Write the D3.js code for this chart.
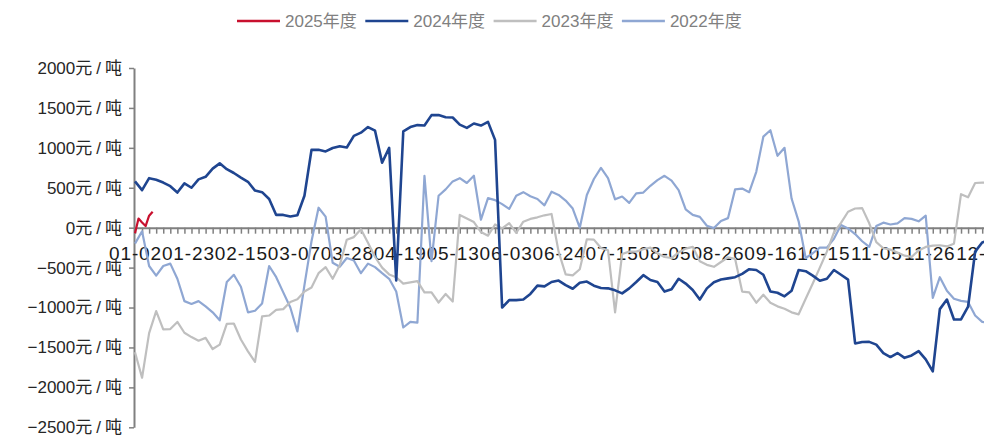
<!DOCTYPE html>
<html><head><meta charset="utf-8">
<script src="https://cdn.jsdelivr.net/npm/d3@7"></script>
<style>body{margin:0;background:#fff}svg{display:block}</style>
</head><body><svg id="c" width="984" height="436"></svg>
<script>
// ---------- data ----------
const dateLabels = ["01-02","01-23","02-15","03-07","03-28","04-19","05-13","06-03","06-24","07-15","08-05","08-26","09-16","10-15","11-05","11-26","12-17"];
const labelEvery = 15;      // trading days between date labels
const dayCount = 244;       // trading days on the axis
const sampleEvery = 2;      // full-year series read every 2 trading days
const yTicks = [-2500,-2000,-1500,-1000,-500,0,500,1000,1500,2000];
const seriesNames = ["2025年度","2024年度","2023年度","2022年度"];

const v2025 = [-70,115,65,20,150,200]; // daily
const v2024 = [580,470,620,600,565,520,440,555,500,605,637,740,806,733,685,628,575,465,445,360,
 160,160,140,155,400,975,975,955,998,1020,1004,1150,1190,1260,1215,815,1000,-660,1205,1260,
 1285,1280,1410,1410,1384,1380,1290,1250,1305,1279,1325,1100,-1000,-907,-907,-900,-830,-726,-735,-680,
 -662,-720,-765,-690,-675,-726,-755,-760,-785,-823,-760,-680,-595,-655,-680,-800,-770,-640,-700,-780,
 -900,-760,-684,-650,-635,-620,-578,-520,-530,-590,-800,-815,-860,-790,-530,-545,-600,-665,-640,-530,
 -590,-650,-1450,-1431,-1430,-1465,-1570,-1620,-1570,-1630,-1600,-1545,-1650,-1800,-1020,-900,-1150,-1148,-990,-300,
 -185,-160];
const v2023 = [-1560,-1880,-1320,-1045,-1274,-1270,-1180,-1316,-1370,-1415,-1380,-1520,-1464,-1205,-1200,-1400,-1549,-1680,-1110,-1100,
 -1030,-1020,-930,-895,-800,-750,-570,-494,-640,-470,-150,-118,-20,-190,-367,-500,-585,-620,-700,-684,
 -670,-810,-810,-937,-830,-925,160,115,70,-55,-100,40,-10,58,-65,75,110,130,155,172,
 -300,-585,-598,-520,-145,-150,-255,-282,-1060,-330,-300,-300,-270,-250,-320,-367,-380,-310,-262,-240,
 -420,-465,-490,-430,-370,-390,-800,-810,-940,-840,-940,-985,-1015,-1060,-1085,-890,-700,-500,-300,-60,
 60,200,240,245,55,-180,-258,-275,-310,-350,-365,-285,-241,-225,-220,-235,-200,420,380,560,
 565,560];
const v2022 = [-200,-45,-480,-600,-480,-450,-640,-920,-955,-920,-985,-1060,-1160,-680,-590,-740,-1060,-1040,-950,-480,
 -620,-810,-1000,-1300,-720,-170,250,139,-440,-490,-380,-410,-570,-450,-494,-570,-640,-800,-1250,-1180,
 -1190,650,-420,400,480,580,620,560,650,100,370,345,295,235,400,445,393,360,280,450,
 410,340,240,0,410,610,750,620,355,390,310,430,440,525,595,650,590,470,230,160,
 135,25,-5,85,120,480,490,445,700,1140,1220,900,1000,365,80,-380,-320,-250,-250,-140,
 34,-10,-80,-170,-241,20,63,40,55,120,110,80,150,-880,-620,-790,-890,-916,-930,-1100,
 -1180,-1190];

const colors = {"2025年度":"#C8102E","2024年度":"#1F4590","2023年度":"#BFBFBF","2022年度":"#8FA7D3"};
const widths = {"2025年度":2.2,"2024年度":2.6,"2023年度":2.2,"2022年度":2.2};

// ---------- chart ----------
const FONT = "'Liberation Sans','Noto Sans CJK SC',sans-serif";
const svg = d3.select("#c");
svg.append("rect").attr("width",984).attr("height",436).attr("fill","#fff");

const x = d3.scaleLinear().domain([0, dayCount-1]).range([135, 135 + 3.53*(dayCount-1)]);
const y = d3.scaleLinear().domain([-2500, 2000]).range([427.3, 68]);
const fmt = d3.format("d");

// y axis
const gy = svg.append("g").attr("transform","translate(134,0)")
  .call(d3.axisLeft(y).tickValues(yTicks).tickSize(5).tickSizeOuter(0).tickPadding(7));
gy.select(".domain").attr("stroke","#808080").attr("stroke-width",2);
gy.selectAll(".tick line").attr("stroke","#808080").attr("stroke-width",1.5);
gy.selectAll(".tick text").each(function(d){
  const t = d3.select(this).text(null)
    .attr("font-family",FONT).attr("font-size",17).attr("fill","#262626");
  t.append("tspan").text(fmt(d)+"元");
  t.append("tspan").attr("dx",4).text("/");
  t.append("tspan").attr("dx",4).text("吨");
});

// x axis (ticks)
const gx = svg.append("g").attr("transform",`translate(0,${y(0)})`)
  .call(d3.axisBottom(x).tickValues(d3.range(0, dayCount, 2)).tickSize(6).tickSizeOuter(0).tickFormat(""));
gx.select(".domain").attr("stroke","#808080").attr("stroke-width",2);
gx.selectAll(".tick line").attr("stroke","#808080").attr("stroke-width",1.5);

// x labels
const gl = svg.append("g").attr("transform",`translate(0,${y(0)})`)
  .call(d3.axisBottom(x).tickValues(dateLabels.map((d,i)=>i*labelEvery)).tickSize(0).tickPadding(19)
    .tickFormat((d,i)=>dateLabels[i]));
gl.select(".domain").remove();
gl.selectAll(".tick text").attr("font-family",FONT).attr("font-size",19).attr("fill","#1a1a1a")
  .attr("letter-spacing","0.9px");

// lines
const line = d3.line().x(d=>x(d[0])).y(d=>y(d[1]));
const series = [
  {name:"2022年度", pts:v2022.map((v,i)=>[i*sampleEvery,v])},
  {name:"2023年度", pts:v2023.map((v,i)=>[i*sampleEvery,v])},
  {name:"2024年度", pts:v2024.map((v,i)=>[i*sampleEvery,v])},
  {name:"2025年度", pts:v2025.map((v,i)=>[i,v])}
];
svg.append("g").selectAll("path").data(series).join("path")
  .attr("d",d=>line(d.pts)).attr("fill","none")
  .attr("stroke",d=>colors[d.name]).attr("stroke-width",d=>widths[d.name])
  .attr("stroke-linejoin","round");

// legend
const lg = svg.append("g").attr("transform","translate(237,21)");
const items = lg.selectAll("g").data(seriesNames).join("g")
  .attr("transform",(d,i)=>`translate(${i*128.3},0)`);
items.append("line").attr("x1",0).attr("x2",43).attr("y1",0).attr("y2",0)
  .attr("stroke",d=>colors[d]).attr("stroke-width",2.5);
items.append("text").attr("x",48).attr("y",0).attr("dy","0.35em")
  .attr("font-family",FONT).attr("font-size",17).attr("fill","#808080").text(d=>d);
</script></body></html>
